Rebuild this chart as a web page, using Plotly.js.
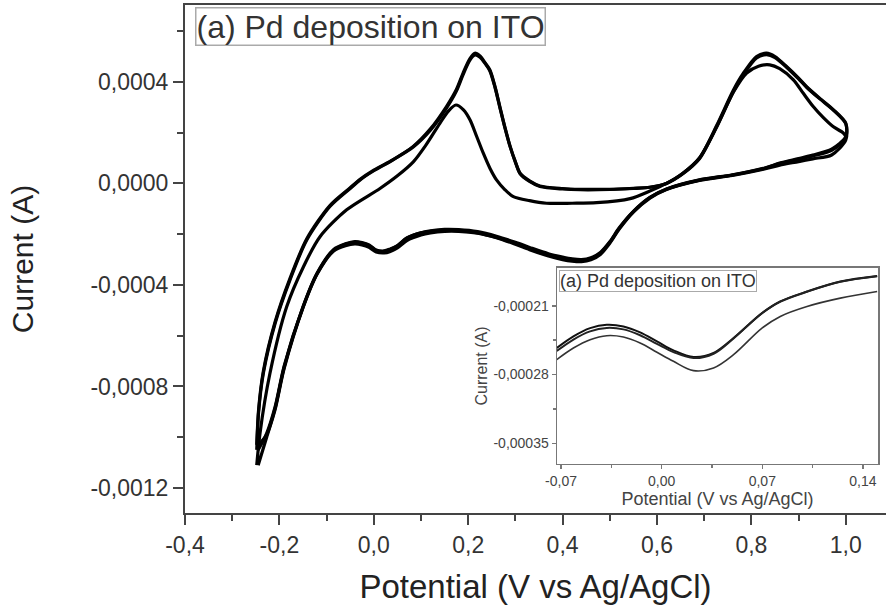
<!DOCTYPE html>
<html>
<head>
<meta charset="utf-8">
<script src="https://cdn.plot.ly/plotly-3.0.1.min.js"></script>
<style>html,body{margin:0;padding:0;background:#fff;}#chart{width:886px;height:610px;}</style>
</head>
<body>
<div id="chart"></div>
<script>
// ---------- main CV data (Potential V, Current A) ----------
// anodic (upper) branch, cycles A & B share potentials
const potUpperAB = [-0.248, -0.244, -0.234, -0.209, -0.1775, -0.142, -0.093, -0.05, -0.029, 0.0, 0.04, 0.083, 0.12, 0.154, 0.175, 0.189, 0.203, 0.214, 0.225, 0.236, 0.246, 0.257, 0.267, 0.278, 0.289, 0.30, 0.31, 0.33, 0.352, 0.40, 0.437, 0.50, 0.55, 0.585, 0.62, 0.655, 0.69, 0.727, 0.762, 0.783, 0.811, 0.832, 0.85, 0.875, 0.90, 0.917, 0.945, 0.974, 1.0];
const curUpperA = [-10.5e-4, -9.0e-4, -7.48e-4, -5.51e-4, -3.80e-4, -2.23e-4, -0.91e-4, -0.20e-4, 0.14e-4, 0.50e-4, 0.92e-4, 1.45e-4, 2.15e-4, 3.03e-4, 3.70e-4, 4.34e-4, 4.90e-4, 5.13e-4, 5.02e-4, 4.75e-4, 4.47e-4, 3.80e-4, 3.03e-4, 2.20e-4, 1.45e-4, 0.85e-4, 0.40e-4, 0.10e-4, -0.10e-4, -0.20e-4, -0.23e-4, -0.23e-4, -0.19e-4, -0.15e-4, 0.0, 0.40e-4, 1.00e-4, 2.30e-4, 3.68e-4, 4.34e-4, 5.00e-4, 5.13e-4, 5.00e-4, 4.60e-4, 4.15e-4, 3.81e-4, 3.35e-4, 2.90e-4, 2.37e-4];
const curUpperB = [-10.3e-4, -8.9e-4, -7.40e-4, -5.45e-4, -3.74e-4, -2.18e-4, -0.87e-4, -0.17e-4, 0.16e-4, 0.52e-4, 0.93e-4, 1.43e-4, 2.10e-4, 2.97e-4, 3.64e-4, 4.28e-4, 4.84e-4, 5.06e-4, 4.97e-4, 4.72e-4, 4.43e-4, 3.77e-4, 3.00e-4, 2.18e-4, 1.44e-4, 0.84e-4, 0.38e-4, 0.08e-4, -0.12e-4, -0.22e-4, -0.25e-4, -0.24e-4, -0.20e-4, -0.15e-4, 0.0, 0.38e-4, 0.97e-4, 2.26e-4, 3.62e-4, 4.28e-4, 4.94e-4, 5.07e-4, 4.96e-4, 4.57e-4, 4.12e-4, 3.79e-4, 3.33e-4, 2.88e-4, 2.35e-4];
// anodic branch of the first cycle (smaller hydrogen peak)
const potUpperC = [-0.248, -0.241, -0.22, -0.1846, -0.149, -0.114, -0.0575, 0.0131, 0.05, 0.0837, 0.11, 0.14, 0.158, 0.174, 0.19, 0.204, 0.218, 0.232, 0.246, 0.26, 0.278, 0.2956, 0.33, 0.366, 0.42, 0.472, 0.543, 0.585, 0.62, 0.655, 0.69, 0.727, 0.762, 0.79, 0.815, 0.839, 0.86, 0.889, 0.91, 0.931, 0.952, 0.973, 0.995];
const curUpperC = [-11.1e-4, -9.83e-4, -7.48e-4, -4.86e-4, -3.28e-4, -2.10e-4, -1.04e-4, -0.20e-4, 0.30e-4, 0.85e-4, 1.50e-4, 2.37e-4, 2.85e-4, 3.09e-4, 2.90e-4, 2.50e-4, 1.85e-4, 1.19e-4, 0.60e-4, 0.14e-4, -0.25e-4, -0.52e-4, -0.68e-4, -0.78e-4, -0.78e-4, -0.76e-4, -0.60e-4, -0.30e-4, 0.0, 0.40e-4, 1.00e-4, 2.24e-4, 3.60e-4, 4.35e-4, 4.62e-4, 4.67e-4, 4.52e-4, 4.08e-4, 3.55e-4, 3.03e-4, 2.60e-4, 2.24e-4, 1.98e-4];
// cathodic (lower) branch, shared potentials
const potLower = [1.0, 0.97, 0.93, 0.90, 0.86, 0.83, 0.76, 0.69, 0.62, 0.585, 0.55, 0.52, 0.50, 0.48, 0.46, 0.44, 0.42, 0.40, 0.37, 0.33, 0.30, 0.26, 0.22, 0.18, 0.15, 0.12, 0.10, 0.07, 0.05, 0.035, 0.022, 0.005, -0.01, -0.025, -0.04, -0.06, -0.085, -0.12, -0.15, -0.19, -0.209, -0.227, -0.245];
const curLowerA = [1.84e-4, 1.35e-4, 1.12e-4, 0.98e-4, 0.80e-4, 0.62e-4, 0.34e-4, 0.14e-4, -0.22e-4, -0.55e-4, -1.10e-4, -1.75e-4, -2.30e-4, -2.72e-4, -2.93e-4, -3.00e-4, -2.97e-4, -2.90e-4, -2.77e-4, -2.52e-4, -2.32e-4, -2.08e-4, -1.90e-4, -1.82e-4, -1.81e-4, -1.87e-4, -1.94e-4, -2.15e-4, -2.45e-4, -2.58e-4, -2.66e-4, -2.62e-4, -2.42e-4, -2.33e-4, -2.29e-4, -2.38e-4, -2.60e-4, -3.53e-4, -4.86e-4, -7.20e-4, -8.80e-4, -9.85e-4, -10.5e-4];
const curLowerB = [1.71e-4, 1.12e-4, 0.97e-4, 0.86e-4, 0.72e-4, 0.58e-4, 0.32e-4, 0.12e-4, -0.24e-4, -0.58e-4, -1.13e-4, -1.80e-4, -2.36e-4, -2.80e-4, -3.01e-4, -3.08e-4, -3.06e-4, -3.00e-4, -2.86e-4, -2.61e-4, -2.40e-4, -2.14e-4, -1.95e-4, -1.86e-4, -1.84e-4, -1.89e-4, -1.95e-4, -2.16e-4, -2.46e-4, -2.60e-4, -2.68e-4, -2.64e-4, -2.45e-4, -2.35e-4, -2.31e-4, -2.40e-4, -2.63e-4, -3.55e-4, -4.88e-4, -7.25e-4, -8.85e-4, -9.90e-4, -10.3e-4];
const curLowerC = [1.80e-4, 1.30e-4, 1.08e-4, 0.95e-4, 0.78e-4, 0.61e-4, 0.33e-4, 0.13e-4, -0.23e-4, -0.56e-4, -1.11e-4, -1.77e-4, -2.32e-4, -2.75e-4, -2.96e-4, -3.03e-4, -3.00e-4, -2.93e-4, -2.80e-4, -2.56e-4, -2.36e-4, -2.13e-4, -1.96e-4, -1.89e-4, -1.89e-4, -1.95e-4, -2.03e-4, -2.25e-4, -2.54e-4, -2.68e-4, -2.74e-4, -2.70e-4, -2.52e-4, -2.42e-4, -2.38e-4, -2.45e-4, -2.66e-4, -3.57e-4, -4.90e-4, -7.30e-4, -8.90e-4, -10.0e-4, -11.1e-4];

// ---------- inset data ----------
const insetPot = [-0.073, -0.0614, -0.0498, -0.0382, -0.0266, -0.015, -0.0033, 0.0082, 0.0222, 0.0361, 0.05, 0.0698, 0.0825, 0.1011, 0.1243, 0.1499];
const insetCurA = [-2.530e-4, -2.411e-4, -2.327e-4, -2.293e-4, -2.310e-4, -2.371e-4, -2.462e-4, -2.553e-4, -2.620e-4, -2.580e-4, -2.428e-4, -2.174e-4, -2.056e-4, -1.955e-4, -1.853e-4, -1.796e-4];
const insetCurB = [-2.560e-4, -2.443e-4, -2.360e-4, -2.325e-4, -2.340e-4, -2.400e-4, -2.488e-4, -2.571e-4, -2.632e-4, -2.588e-4, -2.432e-4, -2.176e-4, -2.058e-4, -1.957e-4, -1.856e-4, -1.799e-4];
const insetCurC = [-2.648e-4, -2.530e-4, -2.445e-4, -2.404e-4, -2.418e-4, -2.479e-4, -2.573e-4, -2.665e-4, -2.760e-4, -2.732e-4, -2.597e-4, -2.327e-4, -2.208e-4, -2.107e-4, -2.022e-4, -1.955e-4];

// ---------- ticks & labels ----------
const xTickVals = [-0.4, -0.2, 0.0, 0.2, 0.4, 0.6, 0.8, 1.0];
const xTickText = ['-0,4', '-0,2', '0,0', '0,2', '0,4', '0,6', '0,8', '1,0'];
const xMinorVals = [-0.3, -0.1, 0.1, 0.3, 0.5, 0.7, 0.9];
const yTickVals = [0.0004, 0.0, -0.0004, -0.0008, -0.0012];
const yTickText = ['0,0004', '0,0000', '-0,0004', '-0,0008', '-0,0012'];
const yMinorVals = [0.0006, 0.0002, -0.0002, -0.0006, -0.0010];
const insetXTickVals = [-0.07, 0.0, 0.07, 0.14];
const insetXTickText = ['-0,07', '0,00', '0,07', '0,14'];
const insetXMinorVals = [-0.035, 0.035, 0.105];
const insetYTickVals = [-0.00021, -0.00028, -0.00035];
const insetYTickText = ['-0,00021', '-0,00028', '-0,00035'];
const insetYMinorVals = [-0.000245, -0.000315];
const labelText = '(a) Pd deposition on ITO';
const xTitle = 'Potential (V vs Ag/AgCl)';
const yTitle = 'Current (A)';

const FONT = 'Liberation Sans, Arial, Helvetica, sans-serif';
const AX = '#444';

function mainTrace(px, py) {
  return {x: px, y: py, type: 'scatter', mode: 'lines', xaxis: 'x', yaxis: 'y',
    line: {color: '#000', width: 3.2, shape: 'spline', smoothing: 0.8}, hoverinfo: 'skip'};
}
function insetTrace(py, w, c) {
  return {x: insetPot, y: py, type: 'scatter', mode: 'lines', xaxis: 'x2', yaxis: 'y2',
    line: {color: c, width: w, shape: 'spline', smoothing: 1}, hoverinfo: 'skip'};
}

const data = [
  mainTrace(potUpperAB.concat(potLower), curUpperA.concat(curLowerA)),
  mainTrace(potUpperAB.concat(potLower), curUpperB.concat(curLowerB)),
  mainTrace(potUpperC.concat(potLower), curUpperC.concat(curLowerC)),
  insetTrace(insetCurA, 2, '#111'),
  insetTrace(insetCurB, 2, '#222'),
  insetTrace(insetCurC, 1.6, '#333')
];

const layout = {
  width: 886, height: 610,
  margin: {l: 185, r: 0, t: 5, b: 97, pad: 0},
  paper_bgcolor: '#fff', plot_bgcolor: '#fff',
  showlegend: false,
  font: {family: FONT, color: '#333'},
  xaxis: {
    domain: [0, 1], range: [-0.4, 1.0852], anchor: 'y',
    tickmode: 'array', tickvals: xTickVals, ticktext: xTickText,
    ticks: 'outside', ticklen: 10, tickwidth: 2, tickcolor: AX,
    minor: {tickmode: 'array', tickvals: xMinorVals, ticks: 'outside', ticklen: 6, tickwidth: 2, tickcolor: AX},
    showline: true, linewidth: 2, linecolor: AX, mirror: true,
    showgrid: false, zeroline: false,
    tickfont: {family: FONT, size: 23, color: '#333'},
    title: {text: xTitle, font: {family: FONT, size: 33, color: '#222'}, standoff: 18},
    automargin: false
  },
  yaxis: {
    domain: [0, 1], range: [-0.0012985, 0.000703], anchor: 'x',
    tickmode: 'array', tickvals: yTickVals, ticktext: yTickText,
    ticks: 'outside', ticklen: 10, tickwidth: 2, tickcolor: AX,
    minor: {tickmode: 'array', tickvals: yMinorVals, ticks: 'outside', ticklen: 6, tickwidth: 2, tickcolor: AX},
    showline: true, linewidth: 2, linecolor: AX,
    showgrid: false, zeroline: false,
    tickfont: {family: FONT, size: 23, color: '#333'},
    title: {text: yTitle, font: {family: FONT, size: 30, color: '#222'}, standoff: 48},
    automargin: false
  },
  xaxis2: {
    domain: [0.5307, 0.9886], range: [-0.0728, 0.1505], anchor: 'y2',
    tickmode: 'array', tickvals: insetXTickVals, ticktext: insetXTickText,
    ticks: 'outside', ticklen: 4, tickwidth: 1.5, tickcolor: '#777',
    minor: {tickmode: 'array', tickvals: insetXMinorVals, ticks: 'outside', ticklen: 3, tickwidth: 1.5, tickcolor: '#777'},
    showline: true, linewidth: 1.5, linecolor: '#777', mirror: true,
    showgrid: false, zeroline: false,
    tickfont: {family: FONT, size: 14, color: '#444'},
    title: {text: xTitle, font: {family: FONT, size: 18, color: '#444'}, standoff: 3},
    automargin: false
  },
  yaxis2: {
    domain: [0.0965, 0.4823], range: [-0.000371, -0.0001715], anchor: 'x2',
    tickmode: 'array', tickvals: insetYTickVals, ticktext: insetYTickText,
    ticks: 'outside', ticklen: 4, tickwidth: 1.5, tickcolor: '#777',
    minor: {tickmode: 'array', tickvals: insetYMinorVals, ticks: 'outside', ticklen: 3, tickwidth: 1.5, tickcolor: '#777'},
    showline: true, linewidth: 1.5, linecolor: '#777', mirror: true,
    showgrid: false, zeroline: false,
    tickfont: {family: FONT, size: 14, color: '#444'},
    title: {text: yTitle, font: {family: FONT, size: 16, color: '#444'}, standoff: 2},
    automargin: false
  },
  annotations: [
    {text: labelText, xref: 'paper', yref: 'paper', x: 0.0143, y: 0.996, xanchor: 'left', yanchor: 'top',
     showarrow: false, font: {family: FONT, size: 32, color: '#333'},
     bordercolor: '#aaa', borderwidth: 1.5, borderpad: 0, bgcolor: '#fff'},
    {text: labelText, xref: 'paper', yref: 'paper', x: 0.5335, y: 0.4783, xanchor: 'left', yanchor: 'top',
     showarrow: false, font: {family: FONT, size: 18, color: '#333'},
     bordercolor: '#aaa', borderwidth: 1, borderpad: 0, bgcolor: '#fff'}
  ]
};

Plotly.newPlot('chart', data, layout, {staticPlot: true, displayModeBar: false});
</script>
</body>
</html>
